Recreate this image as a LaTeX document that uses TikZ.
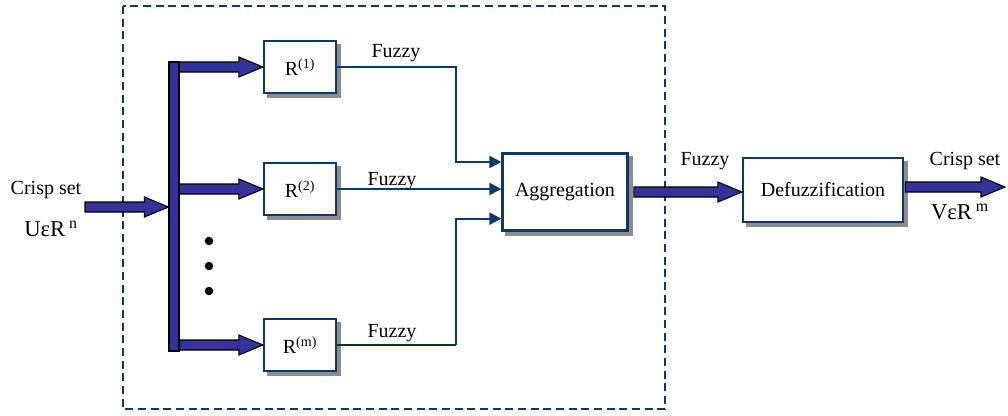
\documentclass[tikz,border=0pt]{standalone}
\usepackage{fontspec}
\setmainfont{Liberation Serif}
\usetikzlibrary{calc,backgrounds,arrows.meta}

\definecolor{navy}{HTML}{0B3A6A}
\definecolor{busblue}{HTML}{333399}
\definecolor{dkgreen}{HTML}{0A3A0A}

% wide block arrow, horizontal, from #1 to the x of #2
\newcommand{\fatarrow}[2]{%
  \filldraw[fatarrow] let \p1=(#1), \p2=(#2) in
    (\x1,\y1+3.75pt) -- (\x2-18pt,\y1+3.75pt) -- (\x2-18pt,\y1+7.5pt)
    -- (\x2,\y1) -- (\x2-18pt,\y1-7.5pt) -- (\x2-18pt,\y1-3.75pt)
    -- (\x1,\y1-3.75pt) -- cycle;}

\begin{document}
\begin{tikzpicture}[x=0.75pt,y=-0.75pt,
  every node/.style={font=\fontsize{15}{18}\selectfont},
  block/.style={draw=navy,line width=1.6pt,fill=white,inner sep=0pt},
  rbox/.style={block,minimum width=54pt,minimum height=39pt},
  bus/.style={draw=black,fill=busblue,line width=0.8pt,inner sep=0pt,
    minimum width=7.5pt,minimum height=216.75pt},
  fatarrow/.style={draw=black,fill=busblue,line width=0.8pt},
  feed/.style={draw=navy,line width=1.5pt,-{Triangle[length=9pt,width=9pt]}},
  frame/.style={draw=navy,line width=1.6pt,dash pattern=on 6pt off 3.5pt},
  boxshadow/.style={fill=black!45},
  bigtext/.style={font=\fontsize{17}{20}\selectfont}]
\useasboundingbox (0,0) rectangle (1008,415);

\draw[frame] (123,6) rectangle (665,409);

% rule blocks and the bus feeding them
\node[bus] (bus) at (174,206.5) {};
\node[rbox] (r1) at (300,67) {R\textsuperscript{(1)}};
\node[rbox] (r2) at (300,189) {R\textsuperscript{(2)}};
\node[rbox] (rm) at (300,345) {R\textsuperscript{(m)}};
\foreach \y in {241,266,291} {\fill (209,\y) circle (3.2pt);}

\node[block,minimum width=93.75pt,minimum height=57.75pt] (agg) at (565,192) {Aggregation};
\node[block,minimum width=120pt,minimum height=48pt] (defuz) at (823,190) {Defuzzification};

% grey shadows under the blocks
\begin{scope}[on background layer]
\foreach \b in {r1,r2,rm,agg,defuz}
  {\fill[boxshadow] ([shift={(3pt,-3pt)}]\b.south west) rectangle ([shift={(3pt,-3pt)}]\b.north east);}
\end{scope}

\coordinate (in) at (85,207);
\coordinate (out) at (1005,187);
\coordinate (mix) at (456,0);

\fatarrow{in}{bus.west}
\foreach \r in {r1,r2,rm} {\fatarrow{bus.east |- \r}{\r.west}}
\fatarrow{[xshift=4pt]agg.east}{defuz.west}
\fatarrow{[xshift=1pt]defuz.east |- out}{out}

% fuzzy outputs into the aggregation block
\draw[feed] (r1.east) -- (r1.east -| mix) |- ([yshift=22.5pt]agg.west);
\draw[feed] (r2.east) -- (r2.east -| agg.west);
\draw[draw=dkgreen,line width=1.5pt] (rm.east) -- (rm.east -| mix);
\draw[feed] (rm.east -| mix) |- ([yshift=-20pt]agg.west);

\node (fz1) at (396,53) {Fuzzy};
\node (fz2) at (392,181) {Fuzzy};
\node (fzm) at (392,333) {Fuzzy};
\node (fzo) at (705,161) {Fuzzy};

\node (crin) at (46,190) {Crisp set};
\node[bigtext] (uin) at (51,229) {UεR\,\textsuperscript{n}};
\node (crout) at (965,161) {Crisp set};
\node[bigtext] (vout) at (960,212) {VεR\,\textsuperscript{m}};
\end{tikzpicture}
\end{document}
